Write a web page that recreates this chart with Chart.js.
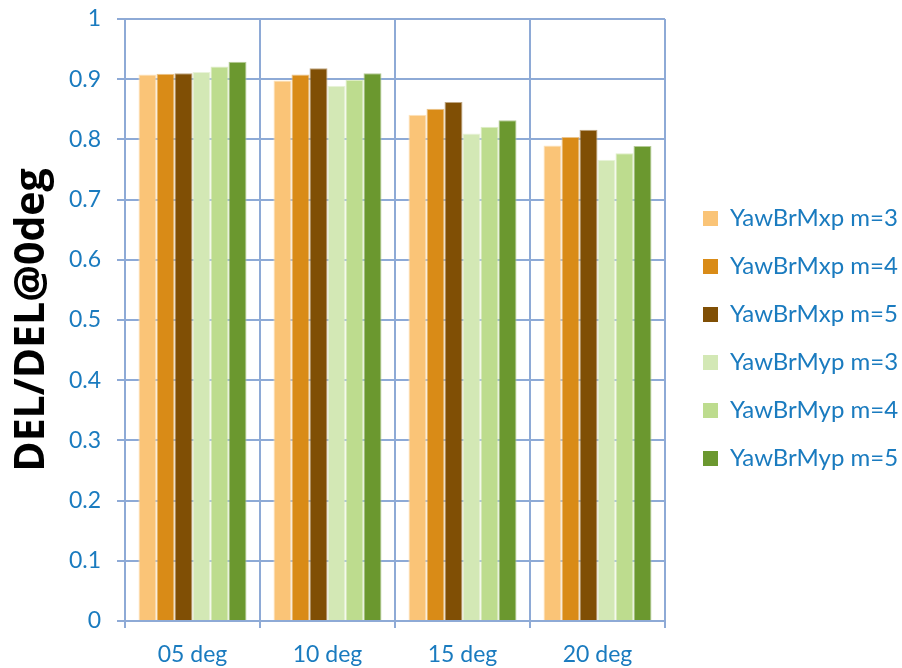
<!DOCTYPE html>
<html>
<head>
<meta charset="utf-8">
<script src="https://cdn.jsdelivr.net/npm/chart.js@4"></script>
<style>
  html, body { margin: 0; padding: 0; background: #fff; }
  #wrap { width: 902px; height: 668px; }
</style>
</head>
<body>
<div id="wrap"><canvas id="barChart" width="902" height="668"></canvas></div>
<script>
// Categorias del eje X
var categories = ["05 deg", "10 deg", "15 deg", "20 deg"];

// Series
var mxp3 = [0.908, 0.898, 0.841, 0.790];
var mxp4 = [0.909, 0.908, 0.851, 0.804];
var mxp5 = [0.910, 0.918, 0.862, 0.816];
var myp3 = [0.912, 0.889, 0.810, 0.766];
var myp4 = [0.921, 0.899, 0.821, 0.777];
var myp5 = [0.929, 0.910, 0.832, 0.789];

var seriesNames = ["YawBrMxp m=3", "YawBrMxp m=4", "YawBrMxp m=5",
                   "YawBrMyp m=3", "YawBrMyp m=4", "YawBrMyp m=5"];
var yTicks = [0, 0.1, 0.2, 0.3, 0.4, 0.5, 0.6, 0.7, 0.8, 0.9, 1];

var colores = ['#fac477', '#d98b17', '#804f05', '#d3e8b5', '#bddc8e', '#6b982f'];
var bordes  = ['#fde3bd', '#ebc48b', '#bfa682', '#e9f3da', '#dfeec6', '#b5cb97'];

var series = [mxp3, mxp4, mxp5, myp3, myp4, myp5];
var azul = '#1a7bbf';
var rejilla = '#8eaad6';

var data = {
    labels: categories,
    datasets: series.map(function(s, i) {
        return {
            label: seriesNames[i],
            data: s,
            backgroundColor: colores[i],
            borderColor: bordes[i],
            borderWidth: 1,
            categoryPercentage: 0.8,
            barPercentage: 1.0
        };
    })
};

//Ajuste de la leyenda: ancho fijo y desplazamiento.
var ajusteLeyenda = {
    id: 'ajusteLeyenda',
    beforeUpdate: function(chart) {
        var lg = chart.legend;
        if (lg && !lg._fitParcheado) {
            var fitOriginal = lg.fit;
            lg.fit = function() {
                fitOriginal.call(this);
                this.width = 902 - 665;
            };
            lg._fitParcheado = true;
        }
    },
    afterLayout: function(chart) {
        var lg = chart.legend;
        lg.left += 14;
        lg.right += 14;
        lg.top -= 5;
        lg.bottom -= 5;
    }
};

var options = {
    responsive: false,
    animation: false,
    layout: { padding: { top: 19, right: 0, left: 0, bottom: 0 } },
    plugins: {
        tooltip: { enabled: false },
        legend: {
            position: 'right',
            align: 'center',
            labels: {
                color: azul,
                font: { family: 'Lato', size: 24 },
                boxWidth: 15,
                boxHeight: 15,
                padding: 24,
                generateLabels: function(chart) {
                    return chart.data.datasets.map(function(ds, i) {
                        return {
                            text: ds.label,
                            fillStyle: ds.backgroundColor,
                            strokeStyle: ds.backgroundColor,
                            lineWidth: 0,
                            fontColor: azul,
                            datasetIndex: i
                        };
                    });
                }
            }
        }
    },
    scales: {
        x: {
            afterFit: function(scale) { scale.height = 47; },
            grid: { color: rejilla, lineWidth: 2, offset: true, tickLength: 7 },
            border: { color: rejilla, width: 2 },
            ticks: { color: azul, font: { family: 'Lato', size: 23 }, padding: 13 }
        },
        y: {
            min: 0,
            max: 1,
            afterFit: function(scale) {
                scale.width = 125;
                scale.paddingTop = 0;
                scale.paddingBottom = 0;
            },
            afterBuildTicks: function(axis) {
                axis.ticks = yTicks.map(function(v) { return { value: v }; });
            },
            grid: { color: rejilla, lineWidth: 2, tickLength: 8 },
            border: { color: rejilla, width: 2 },
            ticks: { color: azul, font: { family: 'Lato', size: 23 }, padding: 16,
                     callback: function(v) { return String(Math.round(v * 10) / 10); } },
            title: {
                display: true,
                text: 'DEL/DEL@0deg',
                color: '#000',
                font: { family: 'Open Sans', size: 41, weight: 'bold' },
                padding: { top: 8, bottom: 0 }
            }
        }
    }
};

var ctx = document.getElementById('barChart').getContext('2d');
var myBarChart = new Chart(ctx, {
    type: 'bar',
    data: data,
    options: options,
    plugins: [ajusteLeyenda]
});
</script>
</body>
</html>
